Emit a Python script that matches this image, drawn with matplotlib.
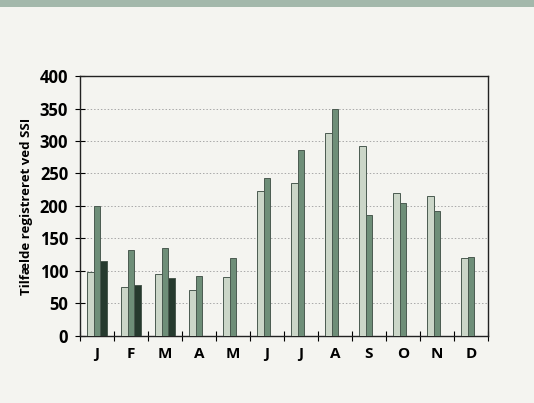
import matplotlib.pyplot as plt
import numpy as np
from matplotlib.ticker import MultipleLocator, FixedLocator

months = ['J', 'F', 'M', 'A', 'M', 'J', 'J', 'A', 'S', 'O', 'N', 'D']
serie1 = [99, 76, 96, 70, 91, 223, 235, 312, 293, 220, 216, 120]
serie2 = [200, 132, 136, 92, 120, 243, 286, 350, 186, 204, 193, 121]
serie3 = [116, 78, 89, None, None, None, None, None, None, None, None, None]

colors = ['#cbd6c8', '#6e8e78', '#263a2e']
edge = '#4a5a50'


def main():
    plt.rcParams['font.family'] = ['Open Sans', 'DejaVu Sans']
    fig = plt.figure(figsize=(5.34, 4.03), dpi=100)
    fig.patch.set_facecolor('#f4f4f0')

    # strip of colour at the top of the page
    fig.add_artist(plt.Rectangle((0, 0.982), 1, 0.018, transform=fig.transFigure,
                                 color='#a3b8ab', lw=0))

    ax = fig.add_axes([0.1498, 0.1663, 0.7640, 0.6451])
    ax.set_facecolor('#f4f4f0')

    x = np.arange(len(months))
    w = 0.2
    for i, s in enumerate([serie1, serie2, serie3]):
        xs = [xi + (i - 1) * w for xi, v in zip(x, s) if v is not None]
        vs = [v for v in s if v is not None]
        ax.bar(xs, vs, width=w, color=colors[i], edgecolor=edge, linewidth=0.7, zorder=3)

    ax.set_xlim(-0.5, 11.5)
    ax.set_ylim(0, 400)
    ax.yaxis.set_major_locator(MultipleLocator(50))
    ax.grid(axis='y', color='#a8a8a8', linestyle=(0, (1.5, 2)), linewidth=0.7, zorder=1)

    ax.set_xticks(x)
    ax.set_xticklabels(months, fontsize=11, fontweight='bold')
    ax.xaxis.set_minor_locator(FixedLocator(np.arange(-0.5, 12, 1)))
    ax.tick_params(axis='x', which='major', length=0, pad=8)
    ax.tick_params(axis='x', which='minor', direction='inout', length=7, width=0.8)
    ax.tick_params(axis='y', direction='inout', length=7, width=0.8, labelsize=12, pad=5)
    for t in ax.get_yticklabels():
        t.set_fontweight('bold')

    for sp in ax.spines.values():
        sp.set_color('#222222')
        sp.set_linewidth(1.0)

    ax.set_ylabel('Tilfælde registreret ved SSI', fontsize=9.5, fontweight='bold', labelpad=5)

    fig.savefig('out.png', dpi=100, facecolor=fig.get_facecolor())


if __name__ == '__main__':
    main()
